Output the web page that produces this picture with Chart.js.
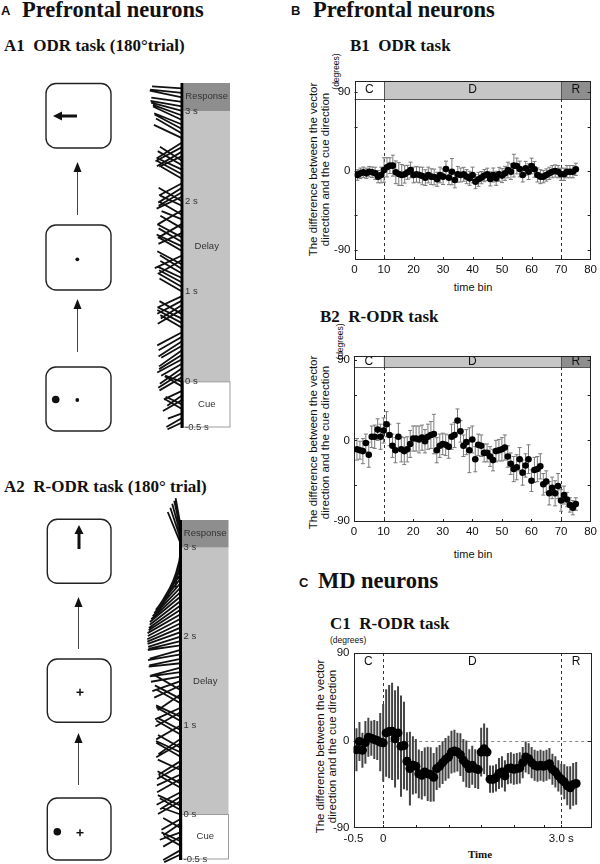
<!DOCTYPE html>
<html>
<head>
<meta charset="utf-8">
<title>Prefrontal and MD neurons</title>
<script src="https://cdn.jsdelivr.net/npm/chart.js@4.4.1/dist/chart.umd.min.js"></script>
<style>
  body { margin: 0; background: #fff; }
  #page { position: relative; width: 600px; height: 864px; overflow: hidden; font-family: "Liberation Sans", Arial, sans-serif; color: #111; }
  .t { position: absolute; white-space: nowrap; line-height: 1; }
  .serif { font-family: "Liberation Serif", "Times New Roman", serif; font-weight: bold; }
  .lab { font-size: 13px; font-weight: bold; }
  .rot { position: absolute; transform: rotate(-90deg); text-align: center; white-space: nowrap; }
  canvas { position: absolute; }
</style>
</head>
<body>
<div id="page">

<!-- task diagrams (boxes + arrows) -->
<svg width="300" height="864" style="position:absolute;left:0;top:0">
  <g fill="#fff" stroke="#222" stroke-width="1.4">
    <rect x="46" y="83.5" width="65" height="64.5" rx="10"/>
    <rect x="46" y="225" width="65" height="65" rx="10"/>
    <rect x="46" y="367" width="65" height="64" rx="10"/>
    <rect x="47.3" y="519.3" width="63.7" height="64" rx="10"/>
    <rect x="47.3" y="659" width="63.7" height="63.3" rx="10"/>
    <rect x="47.3" y="798" width="63.7" height="62" rx="10"/>
  </g>
  <g stroke="#444" stroke-width="1">
    <line x1="77.5" y1="215" x2="77.5" y2="168"/>
    <line x1="77.5" y1="352" x2="77.5" y2="305"/>
    <line x1="78.5" y1="649" x2="78.5" y2="603"/>
    <line x1="78.5" y1="785" x2="78.5" y2="739"/>
  </g>
  <g fill="#111">
    <polygon points="77.5,162 73.5,172 81.5,172"/>
    <polygon points="77.5,299 73.5,309 81.5,309"/>
    <polygon points="78.5,597 74.5,607 82.5,607"/>
    <polygon points="78.5,733 74.5,743 82.5,743"/>
    <rect x="60" y="114.5" width="17" height="3"/>
    <polygon points="53,116 62,111.5 62,120.5"/>
    <circle cx="77.3" cy="259.3" r="1.9"/>
    <circle cx="55.7" cy="399.5" r="3.8"/>
    <circle cx="77.3" cy="400" r="1.9"/>
    <rect x="77.5" y="532" width="3" height="17"/>
    <polygon points="79,525 74.5,534 83.5,534"/>
    <circle cx="57.3" cy="831.7" r="3.8"/>
  </g>
  <g stroke="#111" stroke-width="1.5">
    <line x1="76.5" y1="692.3" x2="83.5" y2="692.3"/>
    <line x1="80" y1="688.8" x2="80" y2="695.8"/>
    <line x1="76.5" y1="832.7" x2="83.5" y2="832.7"/>
    <line x1="80" y1="829.2" x2="80" y2="836.2"/>
  </g>
</svg>

<!-- headings -->
<div class="t lab" style="left:1px;top:4px;">A</div>
<div class="t serif" style="left:22px;top:-1px;font-size:22.5px;">Prefrontal neurons</div>
<div class="t lab" style="left:291px;top:4px;">B</div>
<div class="t serif" style="left:313px;top:-1px;font-size:22.5px;">Prefrontal neurons</div>
<div class="t serif" style="left:4px;top:37px;font-size:17px;">A1&nbsp; ODR task (180°trial)</div>
<div class="t serif" style="left:350px;top:37px;font-size:17px;">B1&nbsp; ODR task</div>
<div class="t serif" style="left:4px;top:478px;font-size:17px;">A2&nbsp; R-ODR task (180° trial)</div>
<div class="t serif" style="left:320px;top:308px;font-size:17px;">B2&nbsp; R-ODR task</div>
<div class="t lab" style="left:299px;top:576px;">C</div>
<div class="t serif" style="left:318px;top:570px;font-size:22.5px;">MD neurons</div>
<div class="t serif" style="left:330px;top:615px;font-size:17px;">C1&nbsp; R-ODR task</div>

<!-- axis titles -->
<div class="rot" style="left:228.5px;top:157.5px;width:180px;font-size:11.5px;line-height:11.5px;">The difference between the vector<br>direction and the cue direction</div>
<div class="rot" style="left:311px;top:67px;width:50px;font-size:8.5px;line-height:9px;">(degrees)</div>
<div class="t" style="left:423px;top:282px;width:100px;text-align:center;font-size:11px;">time bin</div>

<div class="rot" style="left:229px;top:431px;width:180px;font-size:11.5px;line-height:11.5px;">The difference between the vector<br>direction and the cue direction</div>
<div class="rot" style="left:315px;top:337px;width:50px;font-size:8.5px;line-height:9px;">(degrees)</div>
<div class="t" style="left:423px;top:549px;width:100px;text-align:center;font-size:11px;">time bin</div>

<div class="rot" style="left:236px;top:735px;width:180px;font-size:11.5px;line-height:11.5px;">The difference between the vector<br>direction and the cue direction</div>
<div class="t" style="left:330px;top:636px;font-size:8.5px;">(degrees)</div>
<div class="t serif" style="left:430px;top:849px;width:100px;text-align:center;font-size:11px;">Time</div>

<canvas id="a1" width="120" height="372" style="left:122px;top:58px"></canvas>
<canvas id="a2" width="120" height="369" style="left:120px;top:495px"></canvas>
<canvas id="b1" width="300" height="240" style="left:300px;top:60px"></canvas>
<canvas id="b2" width="300" height="220" style="left:300px;top:335px"></canvas>
<canvas id="c1" width="300" height="234" style="left:300px;top:630px"></canvas>
</div>

<script>
Chart.defaults.font.family = '"Liberation Sans", Arial, sans-serif';
Chart.defaults.color = '#111';

// 50 ms time bins, bin 10 = cue offset (0 s), bin 70 = end of delay (3 s)
const timeBins = [1,2,3,4,5,6,7,8,9,10,11,12,13,14,15,16,17,18,19,20,21,22,23,24,25,26,27,28,29,30,31,32,33,34,35,36,37,38,39,40,41,42,43,44,45,46,47,48,49,50,51,52,53,54,55,56,57,58,59,60,61,62,63,64,65,66,67,68,69,70,71,72,73,74,75];
const phaseEdges = [0, 10, 70, 80];
const phaseLabels = ['C', 'D', 'R'];
const binTicks = [0, 10, 20, 30, 40, 50, 60, 70, 80];

// A1/A2 population vectors, one per bin: direction (deg, 180 = left) and length
const vectorTickBins = [0, 10, 30, 50, 70];
const vectorTickLabels = ['-0.5 s', '0 s', '1 s', '2 s', '3 s'];
const vectorPhaseNames = ['Cue', 'Delay', 'Response'];
const a1Angle = [205,210,200,150,155,210,215,205,150,160,
                 210,212,215,210,208,212,215,210,213,210,
                 208,150,152,155,150,210,212,208,205,150,
                 150,152,155,150,148,152,210,205,150,155,
                 150,152,205,150,210,158,150,210,155,150,
                 205,210,212,208,150,152,155,150,148,205,
                 210,208,212,155,150,152,158,155,160,165,
                 170,172,168,174,176];
const a1Length = [16,18,15,20,18,22,18,20,20,18,
                  26,28,27,24,28,27,28,24,28,27,
                  28,25,28,27,26,28,25,28,27,26,
                  28,26,27,25,26,28,26,30,27,28,
                  27,28,26,25,28,22,27,28,24,27,
                  28,27,28,26,24,28,27,28,26,25,
                  29,30,30,31,30,31,30,32,31,32,
                  32,31,33,32,30];
const a2Angle = [205,210,150,155,210,200,150,215,210,160,
                 150,155,210,212,208,150,152,210,205,155,
                 210,212,150,155,150,210,215,150,152,210,
                 150,155,210,205,150,152,215,150,205,200,
                 190,188,195,186,192,190,196,188,194,198,
                 200,203,206,208,210,213,216,218,220,223,
                 226,229,232,236,240,245,250,255,262,268,
                 112,108,105,102,100];
const a2Length = [18,20,19,21,20,22,20,21,22,20,
                  24,25,26,24,27,25,26,27,26,25,
                  27,26,28,27,26,28,27,28,26,28,
                  28,27,29,28,27,29,28,30,29,30,
                  30,31,31,32,32,33,32,33,33,34,
                  35,36,37,37,38,38,39,39,40,40,
                  40,40,40,39,39,38,37,36,36,35,
                  34,33,32,30,28];

// B1: ODR task, mean difference (deg) and error
const b1Mean = [-4.6,-2.7,-1.5,-2.7,-0.8,-1.5,-2.7,-6.5,-4.6,1.1,
                4.2,6.1,6.1,-1.5,-3.4,-4.6,-3.8,-1.5,1.1,-4.6,
                -3.8,-4.6,-5.7,-7.6,-4.6,-6.5,-6.8,-9.5,-4.6,-6.5,
                2.3,-7.6,-0.8,-10.3,-3.8,-4.6,-3.8,-6.5,-8.4,-4.6,
                -12.2,-9.5,-7.6,-5.3,-3.8,-9.1,-4.6,-8.4,-3.8,-5.3,
                -2.7,1.1,-0.8,6.1,5.7,2.3,-4.6,3.0,-0.8,5.7,
                1.9,-4.6,-6.5,-6.5,-4.6,-2.7,-0.8,0,-0.8,-3.8,
                -3.8,-0.8,-0.8,-0.8,1.9];
const b1Err = [6,6,6,6,6,6,7,7,9,14,
               11,9,12,13,13,12,10,8,9,9,
               9,9,10,9,9,9,9,8,9,9,
               9,8,15,9,9,8,8,8,8,9,
               8,8,7,7,7,8,8,8,8,8,
               8,9,9,13,9,9,8,8,9,9,
               9,8,8,7,7,7,7,7,7,7,
               7,7,7,7,7];

// B2: R-ODR task
const b2Mean = [-10,-11,-12,-3,-16,4,4,12,4,11,
                18,6,-6,-11,4,-10,-12,-10,-4,2,
                2,1,3,-1,4,6,7,-11,-6,-4,
                -5,-7,4,6,22,10,-6,-2,-11,1,
                -21,-5,-6,-14,-14,-18,-22,-12,-11,-10,
                -8,-18,-26,-32,-30,-21,-36,-28,-21,-45,
                -33,-32,-29,-49,-46,-59,-53,-59,-51,-67,
                -61,-66,-72,-75,-71];
const b2Err = [12,10,14,10,14,12,13,12,14,14,
               14,12,13,14,15,14,15,14,15,14,
               14,15,14,13,14,15,22,14,13,12,
               12,13,14,14,13,12,12,14,25,15,
               14,12,12,10,10,11,12,12,12,13,
               14,12,12,14,14,13,14,13,16,12,
               14,14,14,12,12,13,12,14,14,12,
               10,8,8,8,7];

// C1: MD neurons, R-ODR task
const c1Mean = [-9.5,-1,-10,-2,3.4,2.4,1,0,-1.7,-2.4,
                7.8,9.2,9.5,1.7,7.8,-5.8,-5.1,-21.4,-28.9,-25.5,
                -26.5,-34.3,-35.7,-32.3,-34.3,-35,-37.8,-28.9,-26.5,-22.8,
                -19.4,-17,-11.9,-10.9,-11.9,-14.6,-20.4,-24.1,-28.9,-25.5,
                -28.9,-29.9,-11.9,-8.5,-11.9,-39.8,-39.8,-38.4,-34,-32.3,
                -36.4,-28.9,-28.2,-29.6,-28.9,-28.2,-22.8,-17,-18.7,-22.8,
                -25.5,-26.5,-25.5,-26.5,-25.5,-23.8,-29.6,-32.3,-36.4,-39.8,
                -42.5,-46.6,-48.6,-45.2,-44.2];
const c1Err = [22,20,18,22,20,18,20,20,30,40,
               45,48,50,50,48,52,45,30,38,30,
               28,25,25,25,28,28,25,22,22,22,
               22,22,22,22,20,22,22,24,20,20,
               20,20,25,26,25,14,14,14,16,16,
               16,16,16,16,16,16,16,16,16,16,
               16,16,16,16,16,16,16,16,16,16,
               18,20,22,22,22];
const c1TickBins = [0, 10, 70];
const c1TickLabels = ['-0.5', '0', '3.0 s'];

const PX_PER_BIN = 4.5;

function vectorPoints(angles, lengths) {
  const pts = [];
  timeBins.forEach((b, i) => {
    const r = angles[i] * Math.PI / 180;
    pts.push({x: 0, y: b});
    pts.push({x: lengths[i] * Math.cos(r), y: b + lengths[i] * Math.sin(r) / PX_PER_BIN});
    pts.push({x: null, y: null});
  });
  return pts;
}

const vectorBar = {
  id: 'vectorBar',
  beforeDatasetsDraw(chart) {
    const {ctx, scales: {x, y}} = chart;
    const xl = x.getPixelForValue(1.5), xr = x.getPixelForValue(48);
    const edges = [0, 10, 70, y.max];
    const fills = ['#ffffff', '#c3c3c3', '#8e8e8e'];
    ctx.save();
    for (let i = 0; i < 3; i++) {
      const yt = y.getPixelForValue(edges[i + 1]), yb = y.getPixelForValue(edges[i]);
      ctx.fillStyle = fills[i];
      ctx.fillRect(xl, yt, xr - xl, yb - yt);
    }
    ctx.strokeStyle = '#9c9c9c';
    ctx.lineWidth = 1;
    const y10 = y.getPixelForValue(10), y0 = y.getPixelForValue(0);
    ctx.strokeRect(xl, y10, xr - xl, y0 - y10);
    ctx.font = '9.5px "Liberation Sans", Arial, sans-serif';
    ctx.fillStyle = '#333';
    ctx.textBaseline = 'middle';
    ctx.textAlign = 'left';
    vectorTickBins.forEach((b, i) => ctx.fillText(vectorTickLabels[i], x.getPixelForValue(3), y.getPixelForValue(b)));
    ctx.textAlign = 'center';
    const xc = (xl + xr) / 2;
    ctx.fillText(vectorPhaseNames[0], xc, y.getPixelForValue(5));
    ctx.fillText(vectorPhaseNames[1], xc, y.getPixelForValue(40));
    ctx.fillText(vectorPhaseNames[2], xc, y.getPixelForValue(73.2));
    ctx.restore();
  },
  afterDatasetsDraw(chart) {
    const {ctx, scales: {x, y}} = chart;
    ctx.save();
    ctx.fillStyle = '#000';
    const x0 = x.getPixelForValue(0);
    ctx.fillRect(x0 - 1.5, y.getPixelForValue(y.max), 3, y.getPixelForValue(0) - y.getPixelForValue(y.max) + 1);
    ctx.restore();
  }
};

function makeVectorChart(id, angles, lengths, xMin, padTop, padBottom) {
  new Chart(document.getElementById(id), {
    type: 'scatter',
    data: {datasets: [{
      data: vectorPoints(angles, lengths),
      showLine: true, spanGaps: false,
      borderColor: '#111', borderWidth: 1.8,
      pointRadius: 0, clip: false
    }]},
    options: {
      responsive: false, animation: false, events: [],
      layout: {padding: {top: padTop, bottom: padBottom, left: 0, right: 0}},
      plugins: {legend: {display: false}, tooltip: {enabled: false}},
      scales: {
        x: {type: 'linear', min: xMin, max: xMin + 120, display: false},
        y: {type: 'linear', min: 0, max: 76.2, display: false}
      }
    },
    plugins: [vectorBar]
  });
}

makeVectorChart('a1', a1Angle, a1Length, -60, 25, 3);
makeVectorChart('a2', a2Angle, a2Length, -60.5, 25, 5);

const panelPlugin = {
  id: 'panel',
  beforeDatasetsDraw(chart, args, o) {
    const {ctx, chartArea: a, scales: {x, y}} = chart;
    const ds = chart.data.datasets[0];
    const meta = chart.getDatasetMeta(0);
    ctx.save();
    let top = a.top;
    if (o.bandHeight) {
      top = a.top + o.bandHeight;
      const fills = ['#ffffff', '#c6c6c6', '#8e8e8e'];
      for (let i = 0; i < 3; i++) {
        const l = x.getPixelForValue(phaseEdges[i]), r = x.getPixelForValue(phaseEdges[i + 1]);
        ctx.fillStyle = fills[i];
        ctx.fillRect(l, a.top, r - l, o.bandHeight);
      }
      ctx.strokeStyle = '#555';
      ctx.lineWidth = 1;
      ctx.beginPath();
      ctx.moveTo(a.left, top + 0.5); ctx.lineTo(a.right, top + 0.5);
      [phaseEdges[1], phaseEdges[2]].forEach(v => {
        const px = Math.round(x.getPixelForValue(v)) + 0.5;
        ctx.moveTo(px, a.top); ctx.lineTo(px, top);
      });
      ctx.stroke();
    }
    ctx.fillStyle = '#111';
    ctx.font = '12px "Liberation Sans", Arial, sans-serif';
    ctx.textAlign = 'center';
    ctx.textBaseline = 'middle';
    phaseLabels.forEach((lab, i) => {
      ctx.fillText(lab, x.getPixelForValue((phaseEdges[i] + phaseEdges[i + 1]) / 2), a.top + o.labelOffset);
    });
    ctx.setLineDash([3, 3]);
    ctx.strokeStyle = '#333';
    ctx.lineWidth = 1;
    ctx.beginPath();
    [phaseEdges[1], phaseEdges[2]].forEach(v => {
      const px = Math.round(x.getPixelForValue(v)) + 0.5;
      ctx.moveTo(px, top); ctx.lineTo(px, a.bottom);
    });
    ctx.stroke();
    if (o.zeroLine) {
      ctx.strokeStyle = '#8a8a8a';
      ctx.beginPath();
      const py = Math.round(y.getPixelForValue(0)) + 0.5;
      ctx.moveTo(x.getPixelForValue(phaseEdges[1]), py); ctx.lineTo(a.right, py);
      ctx.stroke();
    }
    ctx.setLineDash([]);
    // error bars
    ctx.strokeStyle = o.errColor;
    ctx.lineWidth = o.errWidth;
    ctx.beginPath();
    ds.data.forEach((p, i) => {
      const px = meta.data[i].x;
      const y1 = y.getPixelForValue(p.y + ds.errors[i]), y2 = y.getPixelForValue(p.y - ds.errors[i]);
      ctx.moveTo(px, y1); ctx.lineTo(px, y2);
      if (o.cap) {
        ctx.moveTo(px - o.cap, y1); ctx.lineTo(px + o.cap, y1);
        ctx.moveTo(px - o.cap, y2); ctx.lineTo(px + o.cap, y2);
      }
    });
    ctx.stroke();
    // frame and inward ticks
    ctx.strokeStyle = '#222';
    ctx.lineWidth = 1;
    ctx.strokeRect(Math.round(a.left) + 0.5, Math.round(a.top) + 0.5, Math.round(a.width) - 1, Math.round(a.height) - 1);
    ctx.beginPath();
    o.yMinor.forEach(v => {
      const py = Math.round(y.getPixelForValue(v)) + 0.5;
      ctx.moveTo(a.left, py); ctx.lineTo(a.left + 3, py);
      ctx.moveTo(a.right, py); ctx.lineTo(a.right - 3, py);
    });
    o.xMinor.forEach(v => {
      const px = Math.round(x.getPixelForValue(v)) + 0.5;
      ctx.moveTo(px, a.bottom); ctx.lineTo(px, a.bottom - 3);
    });
    ctx.stroke();
    ctx.restore();
  }
};

function makeTraceChart(id, mean, err, c) {
  new Chart(document.getElementById(id), {
    type: 'scatter',
    data: {datasets: [{
      data: timeBins.map((b, i) => ({x: b, y: mean[i]})),
      errors: err,
      pointRadius: c.radius, pointBackgroundColor: '#000', pointBorderColor: '#000', pointBorderWidth: 0
    }]},
    options: {
      responsive: false, animation: false, events: [],
      layout: {padding: {top: c.padTop, right: c.padRight, left: 0, bottom: 0}},
      plugins: {
        legend: {display: false}, tooltip: {enabled: false},
        panel: {bandHeight: c.bandHeight, labelOffset: c.labelOffset, zeroLine: c.zeroLine,
                errColor: c.errColor, errWidth: c.errWidth, cap: c.cap, yMinor: c.yMinor, xMinor: c.xMinor}
      },
      scales: {
        x: {
          type: 'linear', min: 0, max: 80,
          afterFit: s => { s.height = c.xHeight; },
          afterBuildTicks: s => { s.ticks = c.xTicks.map(v => ({value: v})); },
          grid: {display: false, drawTicks: false}, border: {display: false},
          ticks: {padding: c.xPad, font: {size: 11.5}, color: '#111', maxRotation: 0, autoSkip: false,
                  callback: c.xLabel}
        },
        y: {
          type: 'linear', min: c.yMin, max: c.yMax,
          afterFit: s => { s.width = c.yWidth; },
          afterBuildTicks: s => { s.ticks = [-90, 0, 90].map(v => ({value: v})); },
          grid: {display: false, drawTicks: false}, border: {display: false},
          ticks: {padding: 4, font: {size: 11.5}, color: '#111'}
        }
      }
    },
    plugins: [panelPlugin]
  });
}

makeTraceChart('b1', b1Mean, b1Err, {
  yMin: -101.8, yMax: 102.9, padTop: 21, padRight: 7, yWidth: 54.5, xHeight: 40, xPad: 3,
  bandHeight: 18, labelOffset: 9, zeroLine: false, radius: 3.3, errColor: '#7a7a7a', errWidth: 1, cap: 2,
  yMinor: [-90, -50, 0, 50, 90], xMinor: [10, 20, 30, 40, 50, 60, 70], xTicks: binTicks, xLabel: v => v
});
makeTraceChart('b2', b2Mean, b2Err, {
  yMin: -91, yMax: 94, padTop: 21, padRight: 7, yWidth: 54, xHeight: 33, xPad: 3,
  bandHeight: 11, labelOffset: 5.5, zeroLine: false, radius: 3.3, errColor: '#7a7a7a', errWidth: 1, cap: 2,
  yMinor: [-90, -50, 0, 50, 90], xMinor: [10, 20, 30, 40, 50, 60, 70], xTicks: binTicks, xLabel: v => v
});
makeTraceChart('c1', c1Mean, c1Err, {
  yMin: -90, yMax: 90, padTop: 23, padRight: 9, yWidth: 53.5, xHeight: 36, xPad: 4,
  bandHeight: 0, labelOffset: 9, zeroLine: true, radius: 4.5, errColor: '#444', errWidth: 2, cap: 0,
  yMinor: [0], xMinor: [10, 21, 32, 43, 54, 64, 70], xTicks: c1TickBins,
  xLabel: v => c1TickLabels[c1TickBins.indexOf(v)]
});
</script>
</body>
</html>
